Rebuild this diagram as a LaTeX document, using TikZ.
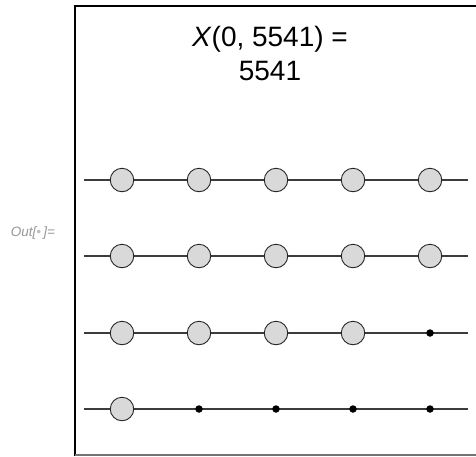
\documentclass[tikz,border=0pt]{standalone}
\usepackage{fontspec}
\setmainfont{Liberation Sans}
\usepackage{tikz}
\usetikzlibrary{positioning}
\definecolor{beadgray}{RGB}{217,217,217}
\definecolor{wiregray}{RGB}{60,60,60}
\definecolor{promptgray}{RGB}{150,150,150}

\begin{document}
\begin{tikzpicture}[x=1pt, y=-1pt,
  bead/.style={circle, draw=black!85, fill=beadgray, line width=0.9pt, minimum size=23.5pt, inner sep=0pt},
  dot/.style={circle, fill=black, minimum size=7.5pt, inner sep=0pt},
  wire/.style={wiregray, line width=1.1pt}]
  \useasboundingbox (0,0) rectangle (476,456);
  % frame
  \draw[line width=2.6pt] (75,456) -- (75,6) -- (476,6);
  \draw[black!55, line width=1.4pt] (75,455) -- (476,455);
  \node[promptgray, font=\fontsize{13.5}{16}\selectfont\itshape] (out) at (33,233) {Out[{\color{black!25}\textbullet}\,]=};
  \node[align=center, font=\fontsize{28}{34}\selectfont] (title) at (270,53) {\textit{X}(0, 5541) =\\5541};
  % wires
  \coordinate (l1) at (84,180); \coordinate (r1) at (468,180);
  \coordinate (l2) at (84,256); \coordinate (r2) at (468,256);
  \coordinate (l3) at (84,333); \coordinate (r3) at (468,333);
  \coordinate (l4) at (84,409); \coordinate (r4) at (468,409);
  \draw[wire] (l1) -- (r1);
  \draw[wire] (l2) -- (r2);
  \draw[wire] (l3) -- (r3);
  \draw[wire] (l4) -- (r4);
  % row 1
  \node[bead] (a1) at (122,180) {}; \node[bead] (a2) at (199,180) {}; \node[bead] (a3) at (276,180) {};
  \node[bead] (a4) at (353,180) {}; \node[bead] (a5) at (430,180) {};
  % row 2
  \node[bead] (b1) at (122,256) {}; \node[bead] (b2) at (199,256) {}; \node[bead] (b3) at (276,256) {};
  \node[bead] (b4) at (353,256) {}; \node[bead] (b5) at (430,256) {};
  % row 3
  \node[bead] (c1) at (122,333) {}; \node[bead] (c2) at (199,333) {}; \node[bead] (c3) at (276,333) {};
  \node[bead] (c4) at (353,333) {}; \node[dot] (c5) at (430,333) {};
  % row 4
  \node[bead] (d1) at (122,409) {}; \node[dot] (d2) at (199,409) {}; \node[dot] (d3) at (276,409) {};
  \node[dot] (d4) at (353,409) {}; \node[dot] (d5) at (430,409) {};
\end{tikzpicture}
\end{document}
